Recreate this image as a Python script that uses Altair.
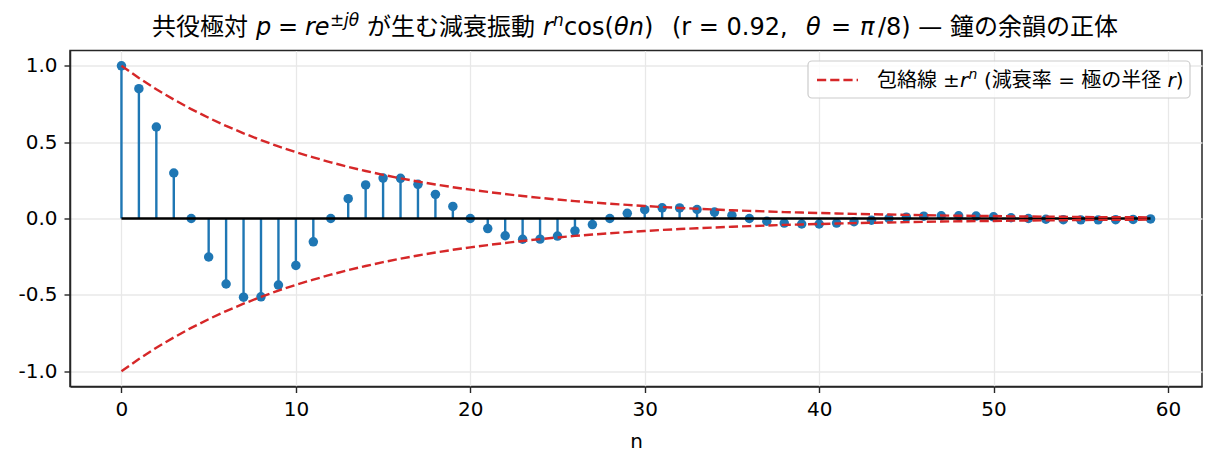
import altair as alt
import pandas as pd

n_vals = list(range(60))
x_vals = [1.000, 0.850, 0.599, 0.298, 0.000, -0.252, -0.429, -0.515, -0.513, -0.436,
          -0.307, -0.153, 0.000, 0.130, 0.220, 0.265, 0.263, 0.224, 0.158, 0.079,
          0.000, -0.066, -0.113, -0.136, -0.135, -0.115, -0.081, -0.040, 0.000, 0.034,
          0.058, 0.070, 0.069, 0.059, 0.042, 0.021, 0.000, -0.018, -0.030, -0.036,
          -0.036, -0.030, -0.021, -0.011, 0.000, 0.009, 0.015, 0.018, 0.018, 0.016,
          0.011, 0.005, 0.000, -0.005, -0.008, -0.009, -0.009, -0.008, -0.006, -0.003]
# envelope r^n (dashed red curves)
env_vals = [1.000, 0.920, 0.846, 0.779, 0.716, 0.659, 0.606, 0.558, 0.513, 0.472,
            0.434, 0.400, 0.368, 0.338, 0.311, 0.286, 0.263, 0.242, 0.223, 0.205,
            0.189, 0.174, 0.160, 0.147, 0.135, 0.124, 0.114, 0.105, 0.097, 0.089,
            0.082, 0.075, 0.069, 0.064, 0.059, 0.054, 0.050, 0.046, 0.042, 0.039,
            0.036, 0.033, 0.030, 0.028, 0.026, 0.024, 0.022, 0.020, 0.018, 0.017,
            0.016, 0.014, 0.013, 0.012, 0.011, 0.010, 0.009, 0.009, 0.008, 0.007]
x_ticks = [0, 10, 20, 30, 40, 50, 60]
y_ticks = [-1.0, -0.5, 0.0, 0.5, 1.0]

# latin glyphs from DejaVu, japanese falls back to Noto CJK (like matplotlib)
TXT = 'DejaVu Sans, Noto Sans CJK JP'
MATH = 'DejaVu Sans'
BLUE = '#1f77b4'
RED = '#d62728'
DASH = [9.2, 4]

stem_df = pd.DataFrame({'n': n_vals, 'x': x_vals})
env_df = pd.DataFrame({
    'n': n_vals + n_vals,
    'env': env_vals + [-v for v in env_vals],
    'side': ['upper'] * len(n_vals) + ['lower'] * len(n_vals),
})
base_df = pd.DataFrame({'n0': [min(n_vals)], 'n1': [max(n_vals)]})

xs = alt.Scale(domain=[-2.95, 61.95], nice=False, zero=False)
ys = alt.Scale(domain=[-1.1, 1.1], nice=False, zero=False)
x_axis = alt.Axis(values=x_ticks, title='n', format='d')
y_axis = alt.Axis(values=y_ticks, title=None,
                  labelExpr="replace(format(datum.value, '.1f'), '\u2212', '-')")

stems = alt.Chart(stem_df).mark_rule(color=BLUE, strokeWidth=2.4).encode(
    x=alt.X('n:Q', scale=xs, axis=x_axis),
    y=alt.Y('x:Q', scale=ys, axis=y_axis),
    y2=alt.datum(0),
)
dots = alt.Chart(stem_df).mark_circle(color=BLUE, size=90, opacity=1).encode(
    x=alt.X('n:Q', scale=xs, axis=x_axis),
    y=alt.Y('x:Q', scale=ys, axis=y_axis),
)
baseline = alt.Chart(base_df).mark_rule(color='black', strokeWidth=2.4).encode(
    x=alt.X('n0:Q', scale=xs, axis=x_axis),
    x2='n1:Q',
    y=alt.datum(0),
)
envelope = alt.Chart(env_df).mark_line(color=RED, strokeWidth=2.4, strokeDash=DASH).encode(
    x=alt.X('n:Q', scale=xs, axis=x_axis),
    y=alt.Y('env:Q', scale=ys, axis=y_axis),
    detail='side:N',
)

# plot area origin on the page
OX, OY = 70, 50.5


def seg(text, px, py, font=TXT, size=24, style='normal'):
    return alt.Chart(pd.DataFrame({'t': [text]})).mark_text(
        align='left', baseline='alphabetic', font=font, fontSize=size,
        fontStyle=style, color='black'
    ).encode(x=alt.value(px - OX), y=alt.value(py - OY), text='t:N')


TB = 35     # title baseline
TS = 25.5   # title superscript baseline
title_parts = [
    seg('共役極対', 152, TB),
    seg('p', 256, TB, MATH, 24, 'italic'),
    seg('=', 278, TB, MATH, 24),
    seg('re', 305, TB, MATH, 24, 'italic'),
    seg('±', 330, TS, MATH, 17),
    seg('jθ', 344, TS, MATH, 17, 'italic'),
    seg('が生む減衰振動', 367, TB),
    seg('r', 543, TB, MATH, 24, 'italic'),
    seg('n', 553, TS, MATH, 17, 'italic'),
    seg('cos(', 564, TB, MATH, 24),
    seg('θn', 614, TB, MATH, 24, 'italic'),
    seg(')', 644, TB, MATH, 24),
    seg('(r = 0.92,', 672, TB),
    seg('θ', 806, TB, MATH, 24, 'italic'),
    seg('=', 831, TB, MATH, 24),
    seg('π', 860, TB, MATH, 24, 'italic'),
    seg('/8) — 鐘の余韻の正体', 878, TB),
]

legend_box = alt.Chart(base_df).mark_rect(
    fill='white', fillOpacity=0.8, stroke='#cccccc', strokeWidth=1.2, cornerRadius=4
).encode(x=alt.value(808 - OX), x2=alt.value(1190 - OX),
         y=alt.value(61 - OY), y2=alt.value(98 - OY))
legend_line = alt.Chart(base_df).mark_rule(
    color=RED, strokeWidth=2.4, strokeDash=DASH
).encode(x=alt.value(817 - OX), x2=alt.value(858 - OX), y=alt.value(80 - OY))
LB = 87
LS = 79
legend_parts = [
    seg('包絡線', 877, LB, TXT, 20),
    seg('±', 943, LB, MATH, 20),
    seg('r', 960, LB, MATH, 20, 'italic'),
    seg('n', 968.5, LS, MATH, 14, 'italic'),
    seg('(減衰率 = 極の半径', 984, LB, TXT, 20),
    seg('r', 1167.5, LB, MATH, 20, 'italic'),
    seg(')', 1175.7, LB, TXT, 20),
]

chart = alt.layer(
    stems, dots, baseline, envelope, legend_box, legend_line, *legend_parts, *title_parts
).properties(
    width=1132, height=336,
    autosize=alt.AutoSizeParams(type='none'),
    padding={'left': 62, 'top': 42.5, 'right': 7, 'bottom': 65},
).configure_view(
    stroke='#262626', strokeWidth=1.5
).configure_axis(
    grid=True, gridColor='#e8e8e8', gridWidth=1.3,
    domainColor='#262626', domainWidth=1.5,
    tickColor='#262626', tickWidth=1.4, tickSize=6,
    labelFont=MATH, labelFontSize=20, labelColor='black', labelPadding=7,
    titleFont=MATH, titleFontSize=20, titleFontWeight='normal', titleColor='black',
    titlePadding=12,
)

chart.save('out.html', embed_options={'renderer': 'svg', 'actions': False})
